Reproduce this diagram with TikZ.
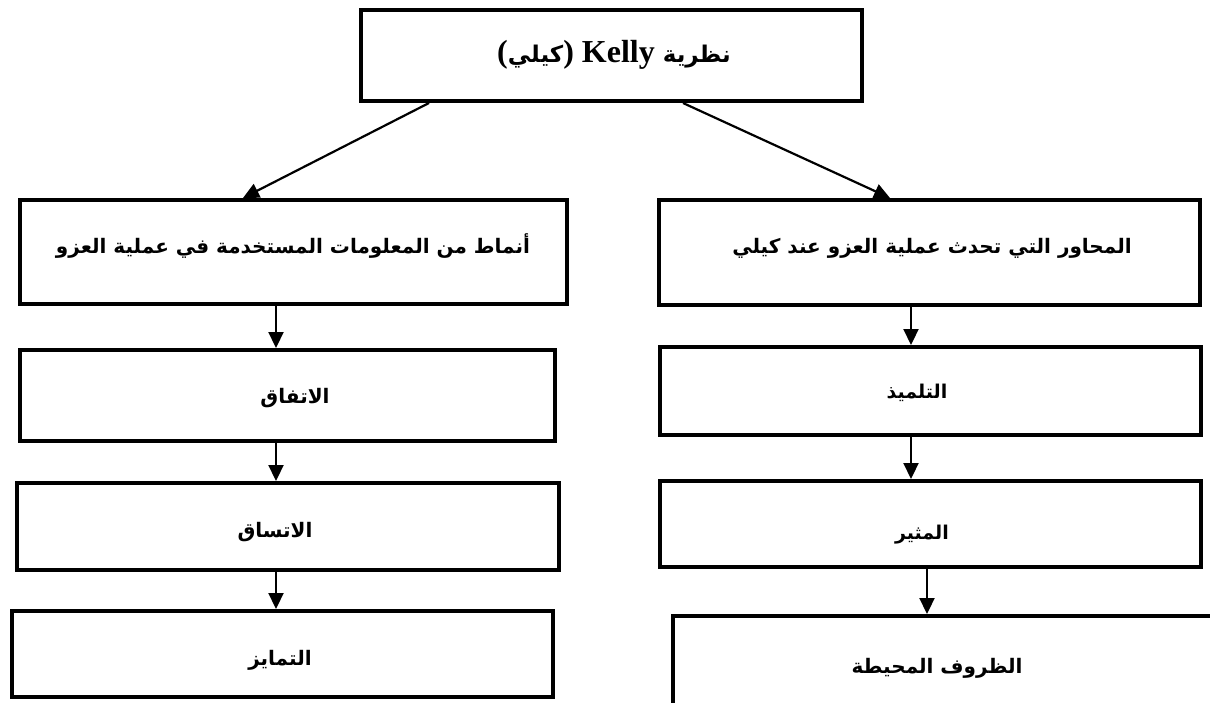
\documentclass[tikz,border=0pt]{standalone}
\usepackage{fontspec}
\setmainfont{Liberation Serif}
\newfontfamily\arabicfont[Script=Arabic]{DejaVu Sans}
\TeXXeTstate=1
\usetikzlibrary{arrows.meta}

\begin{document}
\begin{tikzpicture}[x=1pt,y=-1pt,
  box/.style={draw, line width=4pt, minimum width=#1, inner sep=0pt},
  lbl/.style={inner sep=0pt, font=\arabicfont\bfseries\fontsize{20}{24}\selectfont},
  lbls/.style={inner sep=0pt, font=\arabicfont\bfseries\fontsize{19}{22}\selectfont},
  big/.style={inner sep=0pt, font=\arabicfont\bfseries\fontsize{20}{24}\selectfont},
  arr/.style={line width=2.2pt, -{Triangle[width=15pt,length=16pt]}}]
  \clip (0,0) rectangle (1210,702);
  \fill[white] (0,0) rectangle (1210,702);

  % title box
  \node[box=501pt, minimum height=91pt] (top) at (611.5,55.5) {};
  \node[inner sep=0pt, font=\bfseries\fontsize{32}{36}\selectfont] (toptxt) at (614,55)
    {({\arabicfont\fontsize{23}{26}\selectfont\beginR كيلي\endR}) Kelly {\arabicfont\fontsize{23}{26}\selectfont\beginR نظرية\endR}};

  % left column
  \node[box=547pt, minimum height=104pt] (L1) at (293.5,252) {};
  \node[big] (L1t) at (293,246) {\beginR أنماط من المعلومات المستخدمة في عملية العزو\endR};
  \node[box=535pt, minimum height=91pt] (L2) at (287.5,395.5) {};
  \node[lbl] (L2t) at (295,398) {\beginR الاتفاق\endR};
  \node[box=542pt, minimum height=87pt] (L3) at (288,526.5) {};
  \node[lbl] (L3t) at (275,532) {\beginR الاتساق\endR};
  \node[box=541pt, minimum height=86pt] (L4) at (282.5,654) {};
  \node[lbl] (L4t) at (280,660) {\beginR التمايز\endR};

  % right column
  \node[box=541pt, minimum height=105pt] (R1) at (929.5,252.5) {};
  \node[big] (R1t) at (932,248) {\beginR المحاور التي تحدث عملية العزو عند كيلي\endR};
  \node[box=541pt, minimum height=88pt] (R2) at (930.5,391) {};
  \node[lbls] (R2t) at (917,393) {\beginR التلميذ\endR};
  \node[box=541pt, minimum height=86pt] (R3) at (930.5,524) {};
  \node[lbls] (R3t) at (922,535) {\beginR المثير\endR};
  \node[box=560pt, minimum height=140pt] (R4) at (953,686) {};
  \node[lbl] (R4t) at (937,668) {\beginR الظروف المحيطة\endR};

  % connector columns
  \coordinate (cl) at (276,0);
  \coordinate (cr) at (911,0);
  \coordinate (cr2) at (927,0);
  \coordinate (dl) at (429,0);
  \coordinate (dr) at (683,0);
  \coordinate (el) at (243,0);
  \coordinate (er) at (890,0);

  \draw[arr] (top.south -| dl) -- (L1.north -| el);
  \draw[arr] (top.south -| dr) -- (R1.north -| er);

  \draw[arr] (L1.south -| cl) -- (L2.north -| cl);
  \draw[arr] (L2.south -| cl) -- (L3.north -| cl);
  \draw[arr] (L3.south -| cl) -- (L4.north -| cl);

  \draw[arr] (R1.south -| cr) -- (R2.north -| cr);
  \draw[arr] (R2.south -| cr) -- (R3.north -| cr);
  \draw[arr] (R3.south -| cr2) -- (R4.north -| cr2);
\end{tikzpicture}
\end{document}
